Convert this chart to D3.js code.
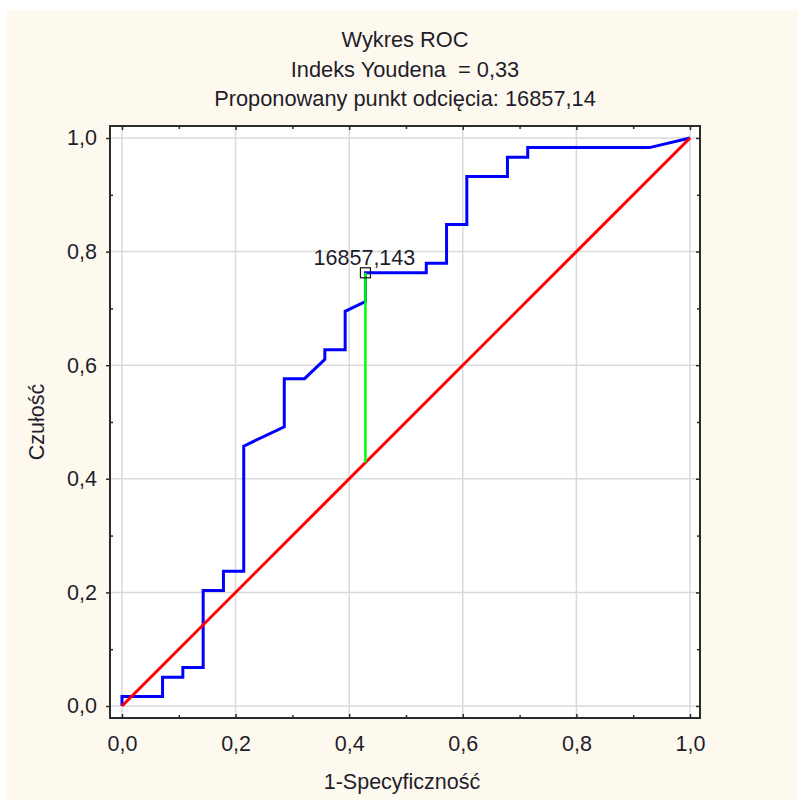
<!DOCTYPE html>
<html>
<head>
<meta charset="utf-8">
<script src="https://cdn.jsdelivr.net/npm/d3@7"></script>
<style>
  html, body { margin: 0; padding: 0; background: #ffffff; }
  svg { display: block; }
  text { font-family: "Liberation Sans", Arial, sans-serif; fill: #1e1e2a; }
</style>
</head>
<body>
<svg id="chart" width="797" height="800"></svg>
<script>
// ROC curve: 1-specificity (x) vs sensitivity (y)
const fpr = [0, 0, 0.0714, 0.0714, 0.1071, 0.1071, 0.1429, 0.1429, 0.1786, 0.1786,
  0.2143, 0.2143, 0.2857, 0.2857, 0.3214, 0.3571, 0.3571, 0.3929, 0.3929, 0.4286,
  0.4286, 0.5357, 0.5357, 0.5714, 0.5714, 0.6071, 0.6071, 0.6786, 0.6786, 0.7143,
  0.7143, 0.9286, 1];
const tpr = [0, 0.0169, 0.0169, 0.0508, 0.0508, 0.0678, 0.0678, 0.2034, 0.2034, 0.2373,
  0.2373, 0.4576, 0.4915, 0.5763, 0.5763, 0.6102, 0.6271, 0.6271, 0.6949, 0.7119,
  0.7627, 0.7627, 0.7797, 0.7797, 0.8475, 0.8475, 0.9322, 0.9322, 0.9661, 0.9661,
  0.9831, 0.9831, 1];

// Reference (chance) line
const refX = [0, 1];
const refY = [0, 1];

// Proposed cut-off point (Youden index)
const cutX = 0.4286;
const cutY = 0.7627;
const cutLabel = "16857,143";

// Axis ticks
const majorTicks = [0, 0.2, 0.4, 0.6, 0.8, 1.0];
const minorTicks = [0.1, 0.3, 0.5, 0.7, 0.9];
const tickLabels = ["0,0", "0,2", "0,4", "0,6", "0,8", "1,0"];

const titleLines = ["Wykres ROC", "Indeks Youdena  = 0,33", "Proponowany punkt odcięcia: 16857,14"];
const xTitle = "1-Specyficzność";
const yTitle = "Czułość";

const svg = d3.select("#chart");
const W = 797, H = 800;
const fontSize = 21.5;
const titleSize = 21.8;

// Page background
svg.append("rect").attr("x", 7).attr("y", 10).attr("width", W - 7).attr("height", H - 10)
  .attr("fill", "#fef9ef");

// Frame and inner padding of the plot area
const frame = { left: 110, right: 700, top: 126, bottom: 718 };
const x = d3.scaleLinear().domain([0, 1]).range([122, 690]);
const y = d3.scaleLinear().domain([0, 1]).range([706, 138]);

svg.append("rect")
  .attr("x", frame.left).attr("y", frame.top)
  .attr("width", frame.right - frame.left).attr("height", frame.bottom - frame.top)
  .attr("fill", "#ffffff");

// Grid lines
const grid = svg.append("g").attr("stroke", "#dadada").attr("stroke-width", 1.5);
grid.selectAll("line.v").data(majorTicks).join("line").attr("class", "v")
  .attr("x1", d => x(d)).attr("x2", d => x(d))
  .attr("y1", frame.top).attr("y2", frame.bottom);
grid.selectAll("line.h").data(majorTicks).join("line").attr("class", "h")
  .attr("y1", d => y(d)).attr("y2", d => y(d))
  .attr("x1", frame.left).attr("x2", frame.right);

const fmt = d => tickLabels[majorTicks.indexOf(d)];

function styleAxis(g) {
  g.select(".domain").remove();
  g.selectAll("line").attr("stroke", "#2b2b2b").attr("stroke-width", 1.5);
  g.selectAll("text").style("font-size", fontSize + "px")
    .style("font-family", "'Liberation Sans', Arial, sans-serif").attr("fill", "#1e1e2a");
}

// Left axis: major ticks outward with labels, minor ticks inward
svg.append("g").attr("transform", `translate(${frame.left},0)`)
  .call(d3.axisLeft(y).tickValues(majorTicks).tickFormat(fmt).tickSize(4).tickPadding(9))
  .call(styleAxis);
svg.append("g").attr("transform", `translate(${frame.left},0)`)
  .call(d3.axisLeft(y).tickValues(minorTicks).tickFormat("").tickSize(-3))
  .call(styleAxis);

// Bottom axis: ticks inward, labels below
svg.append("g").attr("transform", `translate(0,${frame.bottom})`)
  .call(d3.axisBottom(x).tickValues(majorTicks).tickFormat(fmt).tickSize(-4).tickPadding(18))
  .call(styleAxis);
svg.append("g").attr("transform", `translate(0,${frame.bottom})`)
  .call(d3.axisBottom(x).tickValues(minorTicks).tickFormat("").tickSize(-3))
  .call(styleAxis);

// Top and right axes: inward ticks only
svg.append("g").attr("transform", `translate(0,${frame.top})`)
  .call(d3.axisTop(x).tickValues(majorTicks).tickFormat("").tickSize(-4))
  .call(styleAxis);
svg.append("g").attr("transform", `translate(0,${frame.top})`)
  .call(d3.axisTop(x).tickValues(minorTicks).tickFormat("").tickSize(-3))
  .call(styleAxis);
svg.append("g").attr("transform", `translate(${frame.right},0)`)
  .call(d3.axisRight(y).tickValues(majorTicks).tickFormat("").tickSize(-4))
  .call(styleAxis);
svg.append("g").attr("transform", `translate(${frame.right},0)`)
  .call(d3.axisRight(y).tickValues(minorTicks).tickFormat("").tickSize(-3))
  .call(styleAxis);

// Frame border
svg.append("rect")
  .attr("x", frame.left).attr("y", frame.top)
  .attr("width", frame.right - frame.left).attr("height", frame.bottom - frame.top)
  .attr("fill", "none").attr("stroke", "#2b2b2b").attr("stroke-width", 2);

const line = d3.line().x(d => x(d[0])).y(d => y(d[1]));

// ROC curve
svg.append("path")
  .datum(fpr.map((v, i) => [v, tpr[i]]))
  .attr("d", line)
  .attr("fill", "none").attr("stroke", "#0000ff").attr("stroke-width", 3)
  .attr("stroke-linejoin", "miter");

// Chance diagonal
svg.append("path")
  .datum(refX.map((v, i) => [v, refY[i]]))
  .attr("d", line)
  .attr("fill", "none").attr("stroke", "#ff0000").attr("stroke-width", 3);

// Youden index segment
svg.append("path")
  .datum([[cutX, cutX], [cutX, cutY]])
  .attr("d", line)
  .attr("fill", "none").attr("stroke", "#00ff00").attr("stroke-width", 2.5);

// Cut-off marker and label
svg.append("rect")
  .attr("x", x(cutX) - 5).attr("y", y(cutY) - 5)
  .attr("width", 10).attr("height", 10)
  .attr("fill", "none").attr("stroke", "#111111").attr("stroke-width", 1.2);
svg.append("text")
  .attr("x", x(cutX) - 1).attr("y", y(cutY) - 8)
  .attr("text-anchor", "middle")
  .style("font-size", fontSize + "px")
  .text(cutLabel);

// Titles
svg.append("g").selectAll("text").data(titleLines).join("text")
  .attr("x", (frame.left + frame.right) / 2)
  .attr("y", (d, i) => 47 + i * 29.5)
  .attr("text-anchor", "middle")
  .style("font-size", titleSize + "px")
  .style("white-space", "pre")
  .text(d => d);

svg.append("text")
  .attr("x", (frame.left + frame.right) / 2 - 3)
  .attr("y", 789)
  .attr("text-anchor", "middle")
  .style("font-size", fontSize + "px")
  .text(xTitle);

svg.append("text")
  .attr("transform", `translate(44,${(frame.top + frame.bottom) / 2}) rotate(-90)`)
  .attr("text-anchor", "middle")
  .style("font-size", fontSize + "px")
  .text(yTitle);
</script>
</body>
</html>
